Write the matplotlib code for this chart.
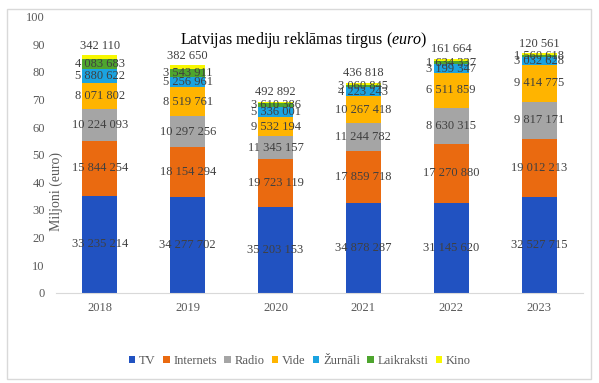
import numpy as np
import matplotlib.pyplot as plt
from matplotlib.patches import Rectangle

plt.rcParams['font.family'] = ['Liberation Serif', 'DejaVu Serif']
plt.rcParams['mathtext.fontset'] = 'custom'
plt.rcParams['mathtext.it'] = 'Liberation Serif:italic'
plt.rcParams['mathtext.rm'] = 'Liberation Serif'

years = ['2018', '2019', '2020', '2021', '2022', '2023']
series = ['TV', 'Internets', 'Radio', 'Vide', 'Žurnāli', 'Laikraksti', 'Kino']
colors = ['#2152c1', '#ea6a10', '#a5a5a5', '#ffb400', '#1ba3e0', '#4ea52e', '#f7f700']

# bar heights as drawn in the chart (millions)
tv_h = [35.2, 34.6, 31.0, 32.5, 32.5, 34.6]
int_h = [19.8, 18.1, 17.3, 18.9, 21.4, 21.0]
radio_h = [11.5, 11.3, 8.5, 10.1, 13.2, 13.6]
vide_h = [9.4, 10.4, 6.7, 9.6, 12.4, 13.3]
zur_h = [5.1, 3.7, 3.9, 3.3, 3.4, 3.0]
laik_h = [3.6, 3.1, 1.2, 1.0, 1.0, 0.7]
kino_h = [1.4, 1.2, 0.6, 0.6, 0.7, 0.5]

# data label values (euro)
tv_lab = [33235214, 34277702, 35203153, 34878287, 31145620, 32527715]
int_lab = [15844254, 18154294, 19723119, 17859718, 17270880, 19012213]
radio_lab = [10224093, 10297256, 11345157, 11244782, 8630315, 9817171]
vide_lab = [8071802, 8519761, 9532194, 10267418, 6511859, 9414775]
zur_lab = [5880622, 5256961, 5336001, 4223243, 3199347, 3032628]
laik_lab = [4083683, 3543911, 3610386, 3060845, 1634337, 1560618]
kino_lab = [342110, 382650, 492892, 436818, 161664, 120561]

heights = [tv_h, int_h, radio_h, vide_h, zur_h, laik_h, kino_h]
labels = [tv_lab, int_lab, radio_lab, vide_lab, zur_lab, laik_lab, kino_lab]

fig = plt.figure(figsize=(5.99, 3.83), dpi=100)
fig.patches.append(Rectangle((7 / 599, 4 / 383), 584 / 599, 370 / 383, transform=fig.transFigure,
                             fill=False, edgecolor='#d9d9d9', linewidth=1))
ax = fig.add_axes([56 / 599, 90.3 / 383, 527 / 599, 276 / 383])

x = np.arange(len(years))
bottom = np.zeros(len(years))
label_col = '#404040'
for i, name in enumerate(series):
    h = np.array(heights[i])
    ax.bar(x, h, 0.4, bottom=bottom, color=colors[i], label=name, zorder=2)
    for j in range(len(years)):
        txt = f'{labels[i][j]:,}'.replace(',', ' ')
        if name == 'Kino':
            # top label sits just above the bar
            ax.annotate(txt, (x[j], bottom[j] + h[j]), xytext=(0, 7), textcoords='offset points',
                        ha='center', va='center', fontsize=9, color=label_col)
        else:
            ax.text(x[j], bottom[j] + h[j] / 2, txt, ha='center', va='center',
                    fontsize=9, color=label_col)
    bottom += h

ax.set_xlim(-0.5, 5.5)
ax.set_ylim(0, 100)
ax.set_yticks(range(0, 101, 10))
ax.set_xticks(x)
ax.set_xticklabels(years)
ax.tick_params(axis='both', length=0, labelsize=9, labelcolor='#595959')
ax.tick_params(axis='y', pad=8)
ax.tick_params(axis='x', pad=7)
for s in ['top', 'right', 'left']:
    ax.spines[s].set_visible(False)
ax.spines['bottom'].set_color('#d9d9d9')

fig.text(56 / 599, 0.499, 'Miljoni (euro)', rotation=90, ha='center', va='center',
         fontsize=10, color='#595959')
fig.text(304 / 599, 1 - 40 / 383, r'Latvijas mediju reklāmas tirgus ($\mathit{euro}$)',
         ha='center', va='center', fontsize=11.5, color='black')

ax.legend(loc='center', bbox_to_anchor=(300 / 599, 1 - 361 / 383), bbox_transform=fig.transFigure,
          ncol=7, frameon=False, fontsize=9, handlelength=0.5, handleheight=0.5,
          handletextpad=0.3, columnspacing=0.6, labelcolor='#595959')

fig.savefig('out.png', dpi=100)
